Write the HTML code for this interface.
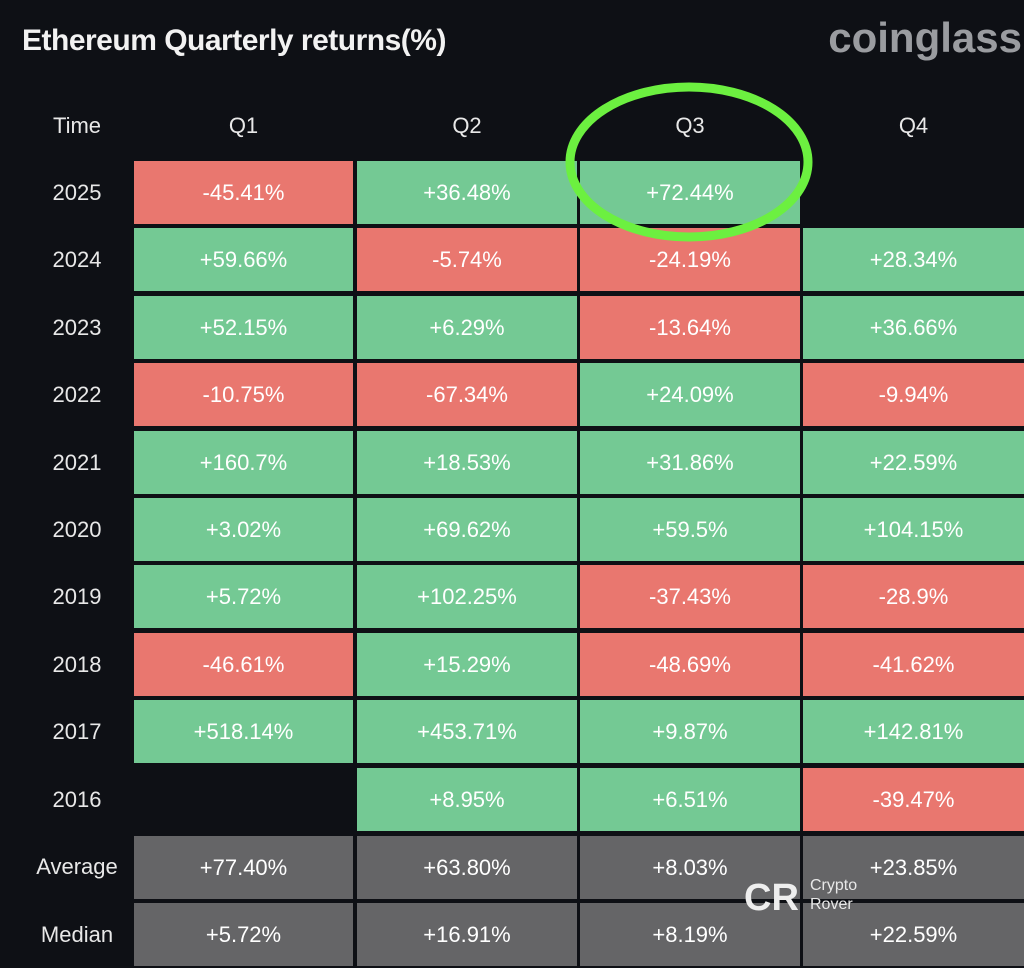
<!DOCTYPE html>
<html><head><meta charset="utf-8"><style>
body{margin:0;width:1024px;height:968px;background:#0e1015;overflow:hidden;font-family:"Liberation Sans",sans-serif;position:relative}
.t{position:absolute;left:22px;top:24px;color:#f2f2f2;font-weight:bold;font-size:30px;letter-spacing:-0.5px}
.cg{position:absolute;right:2px;top:14px;color:#9a9ca0;font-weight:bold;font-size:42px;letter-spacing:0px}
.h,.l{position:absolute;color:#e8e8e8;font-size:22px;text-align:center;line-height:30px}
.c{position:absolute;height:63px;line-height:63px;text-align:center;color:#fff;font-size:22px}
.r{background:#e9776f}.g{background:#74c994}.k{background:#656567}
</style></head><body>
<div class="t">Ethereum Quarterly returns(%)</div>
<div class="cg">coinglass</div>
<div class="h" style="left:27px;width:100px;top:111px">Time</div>
<div class="h" style="left:134px;width:219px;top:111px">Q1</div>
<div class="h" style="left:357px;width:220px;top:111px">Q2</div>
<div class="h" style="left:580px;width:220px;top:111px">Q3</div>
<div class="h" style="left:803px;width:221px;top:111px">Q4</div>

<div class="l" style="left:17px;width:120px;top:178px">2025</div>
<div class="c r" style="left:134px;width:219px;top:161px">-45.41%</div>
<div class="c g" style="left:357px;width:220px;top:161px">+36.48%</div>
<div class="c g" style="left:580px;width:220px;top:161px">+72.44%</div>

<div class="l" style="left:17px;width:120px;top:245px">2024</div>
<div class="c g" style="left:134px;width:219px;top:228px">+59.66%</div>
<div class="c r" style="left:357px;width:220px;top:228px">-5.74%</div>
<div class="c r" style="left:580px;width:220px;top:228px">-24.19%</div>
<div class="c g" style="left:803px;width:221px;top:228px">+28.34%</div>

<div class="l" style="left:17px;width:120px;top:313px">2023</div>
<div class="c g" style="left:134px;width:219px;top:296px">+52.15%</div>
<div class="c g" style="left:357px;width:220px;top:296px">+6.29%</div>
<div class="c r" style="left:580px;width:220px;top:296px">-13.64%</div>
<div class="c g" style="left:803px;width:221px;top:296px">+36.66%</div>

<div class="l" style="left:17px;width:120px;top:380px">2022</div>
<div class="c r" style="left:134px;width:219px;top:363px">-10.75%</div>
<div class="c r" style="left:357px;width:220px;top:363px">-67.34%</div>
<div class="c g" style="left:580px;width:220px;top:363px">+24.09%</div>
<div class="c r" style="left:803px;width:221px;top:363px">-9.94%</div>

<div class="l" style="left:17px;width:120px;top:448px">2021</div>
<div class="c g" style="left:134px;width:219px;top:431px">+160.7%</div>
<div class="c g" style="left:357px;width:220px;top:431px">+18.53%</div>
<div class="c g" style="left:580px;width:220px;top:431px">+31.86%</div>
<div class="c g" style="left:803px;width:221px;top:431px">+22.59%</div>

<div class="l" style="left:17px;width:120px;top:515px">2020</div>
<div class="c g" style="left:134px;width:219px;top:498px">+3.02%</div>
<div class="c g" style="left:357px;width:220px;top:498px">+69.62%</div>
<div class="c g" style="left:580px;width:220px;top:498px">+59.5%</div>
<div class="c g" style="left:803px;width:221px;top:498px">+104.15%</div>

<div class="l" style="left:17px;width:120px;top:582px">2019</div>
<div class="c g" style="left:134px;width:219px;top:565px">+5.72%</div>
<div class="c g" style="left:357px;width:220px;top:565px">+102.25%</div>
<div class="c r" style="left:580px;width:220px;top:565px">-37.43%</div>
<div class="c r" style="left:803px;width:221px;top:565px">-28.9%</div>

<div class="l" style="left:17px;width:120px;top:650px">2018</div>
<div class="c r" style="left:134px;width:219px;top:633px">-46.61%</div>
<div class="c g" style="left:357px;width:220px;top:633px">+15.29%</div>
<div class="c r" style="left:580px;width:220px;top:633px">-48.69%</div>
<div class="c r" style="left:803px;width:221px;top:633px">-41.62%</div>

<div class="l" style="left:17px;width:120px;top:717px">2017</div>
<div class="c g" style="left:134px;width:219px;top:700px">+518.14%</div>
<div class="c g" style="left:357px;width:220px;top:700px">+453.71%</div>
<div class="c g" style="left:580px;width:220px;top:700px">+9.87%</div>
<div class="c g" style="left:803px;width:221px;top:700px">+142.81%</div>

<div class="l" style="left:17px;width:120px;top:785px">2016</div>
<div class="c g" style="left:357px;width:220px;top:768px">+8.95%</div>
<div class="c g" style="left:580px;width:220px;top:768px">+6.51%</div>
<div class="c r" style="left:803px;width:221px;top:768px">-39.47%</div>

<div class="l" style="left:17px;width:120px;top:852px">Average</div>
<div class="c k" style="left:134px;width:219px;top:836px">+77.40%</div>
<div class="c k" style="left:357px;width:220px;top:836px">+63.80%</div>
<div class="c k" style="left:580px;width:220px;top:836px">+8.03%</div>
<div class="c k" style="left:803px;width:221px;top:836px">+23.85%</div>

<div class="l" style="left:17px;width:120px;top:920px">Median</div>
<div class="c k" style="left:134px;width:219px;top:903px">+5.72%</div>
<div class="c k" style="left:357px;width:220px;top:903px">+16.91%</div>
<div class="c k" style="left:580px;width:220px;top:903px">+8.19%</div>
<div class="c k" style="left:803px;width:221px;top:903px">+22.59%</div>

<svg style="position:absolute;left:0;top:0" width="1024" height="968">
<ellipse cx="689" cy="162" rx="119" ry="75" fill="none" stroke="#6cf040" stroke-width="9"/>
<text x="744" y="910" font-family="Liberation Sans" font-size="38" font-weight="bold" fill="#eeeeee">CR</text>
</svg>
<div style="position:absolute;left:810px;top:876px;color:#e8e8e8;font-size:16px;line-height:19px">Crypto<br>Rover</div>
</body></html>
